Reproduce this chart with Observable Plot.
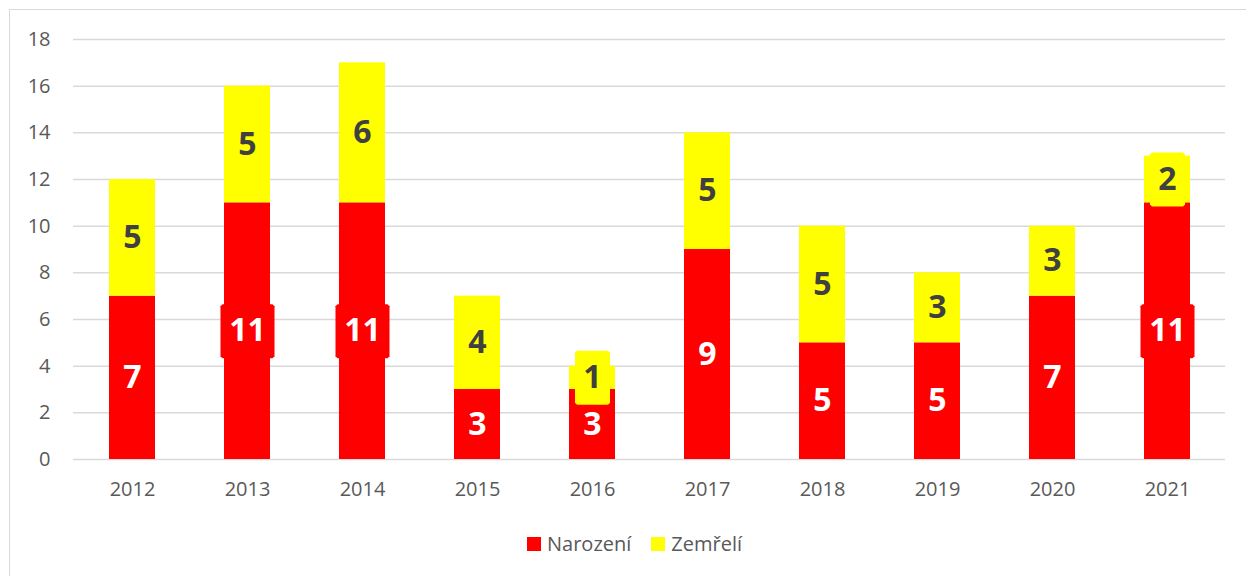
<!DOCTYPE html>
<html>
<head>
<meta charset="utf-8">
<script src="https://cdn.jsdelivr.net/npm/d3@7"></script>
<script src="https://cdn.jsdelivr.net/npm/@observablehq/plot@0.6"></script>
<style>
  html, body { margin: 0; padding: 0; background: #fff; }
  #wrap { position: relative; width: 1246px; height: 576px; overflow: hidden; font-family: "Open Sans", sans-serif; }
  #frame { position: absolute; left: 9px; top: 9px; width: 1400px; height: 800px; border: 1.5px solid #d9d9d9; }
  #chart { position: absolute; left: 0; top: 0; }
  #legend { position: absolute; left: 527px; top: 530px; display: flex; align-items: center; font-size: 20px; color: #595959; white-space: nowrap; }
  #legend .sw { display: inline-block; width: 14px; height: 14px; margin-right: 6px; }
  #legend .item { display: flex; align-items: center; margin-right: 20px; }
</style>
</head>
<body>
<div id="wrap">
  <div id="frame"></div>
  <div id="chart"></div>
  <div id="legend"></div>
</div>
<script>
const years = ["2012","2013","2014","2015","2016","2017","2018","2019","2020","2021"];
const narozeni = [7, 11, 11, 3, 3, 9, 5, 5, 7, 11];
const zemreli = [5, 5, 6, 4, 1, 5, 5, 3, 3, 2];
const seriesNames = ["Narození", "Zemřelí"];
const seriesColors = ["#ff0000", "#ffff00"];
const yTicks = [0, 2, 4, 6, 8, 10, 12, 14, 16, 18];

const seriesValues = [narozeni, zemreli];
const rows = [];
years.forEach((year, i) => {
  let base = 0;
  seriesValues.forEach((vals, s) => {
    const v = vals[i];
    rows.push({year, series: seriesNames[s], value: v, y1: base, y2: base + v, mid: base + v / 2});
    base += v;
  });
});

function boxSymbol(w, h) {
  const c = 2;
  return {
    draw(ctx) {
      const x0 = -w / 2, x1 = w / 2, y0 = -h / 2, y1 = h / 2;
      ctx.moveTo(x0 + c, y0);
      ctx.lineTo(x1 - c, y0);
      ctx.lineTo(x1, y0 + c);
      ctx.lineTo(x1, y1 - c);
      ctx.lineTo(x1 - c, y1);
      ctx.lineTo(x0 + c, y1);
      ctx.lineTo(x0, y1 - c);
      ctx.lineTo(x0, y0 + c);
      ctx.closePath();
    }
  };
}

const oneDigit = d => String(d.value).length === 1;
const twoDigit = d => String(d.value).length > 1;
const red = rows.filter(d => d.series === seriesNames[0]);
const yel = rows.filter(d => d.series === seriesNames[1]);

const chart = Plot.plot({
  width: 1246,
  height: 520,
  marginTop: 39,
  marginBottom: 61,
  marginLeft: 73,
  marginRight: 21,
  style: {fontFamily: "'Open Sans', sans-serif", fontSize: "20px", color: "#595959", background: "transparent"},
  x: {type: "band", domain: years, paddingInner: 0.6, paddingOuter: 0.3, label: null},
  y: {domain: [0, 18], label: null},
  color: {domain: seriesNames, range: seriesColors},
  marks: [
    Plot.ruleY(yTicks, {stroke: "#d9d9d9", strokeWidth: 1.5, strokeOpacity: 1}),
    Plot.axisY({ticks: yTicks, tickSize: 0, tickPadding: 23, label: null, fill: "#595959"}),
    Plot.axisX({tickSize: 0, tickPadding: 22, label: null, fill: "#595959"}),
    Plot.barY(rows, {x: "year", y1: "y1", y2: "y2", fill: "series"}),
    Plot.dot(red.filter(oneDigit), {x: "year", y: "mid", r: 5, symbol: boxSymbol(35, 54), fill: "series", stroke: "none"}),
    Plot.dot(red.filter(twoDigit), {x: "year", y: "mid", r: 5, symbol: boxSymbol(54, 54), fill: "series", stroke: "none"}),
    Plot.dot(yel.filter(oneDigit), {x: "year", y: "mid", r: 5, symbol: boxSymbol(35, 54), fill: "series", stroke: "none"}),
    Plot.dot(yel.filter(twoDigit), {x: "year", y: "mid", r: 5, symbol: boxSymbol(54, 54), fill: "series", stroke: "none"}),
    Plot.text(red, {x: "year", y: "mid", text: d => String(d.value), fill: "#ffffff", fontSize: 32, fontWeight: "bold"}),
    Plot.text(yel, {x: "year", y: "mid", text: d => String(d.value), fill: "#404040", fontSize: 32, fontWeight: "bold"})
  ]
});
document.getElementById("chart").appendChild(chart);

const legend = document.getElementById("legend");
seriesNames.forEach((name, i) => {
  const item = document.createElement("span");
  item.className = "item";
  const sw = document.createElement("span");
  sw.className = "sw";
  sw.style.background = seriesColors[i];
  item.appendChild(sw);
  item.appendChild(document.createTextNode(name));
  legend.appendChild(item);
});
</script>
</body>
</html>
